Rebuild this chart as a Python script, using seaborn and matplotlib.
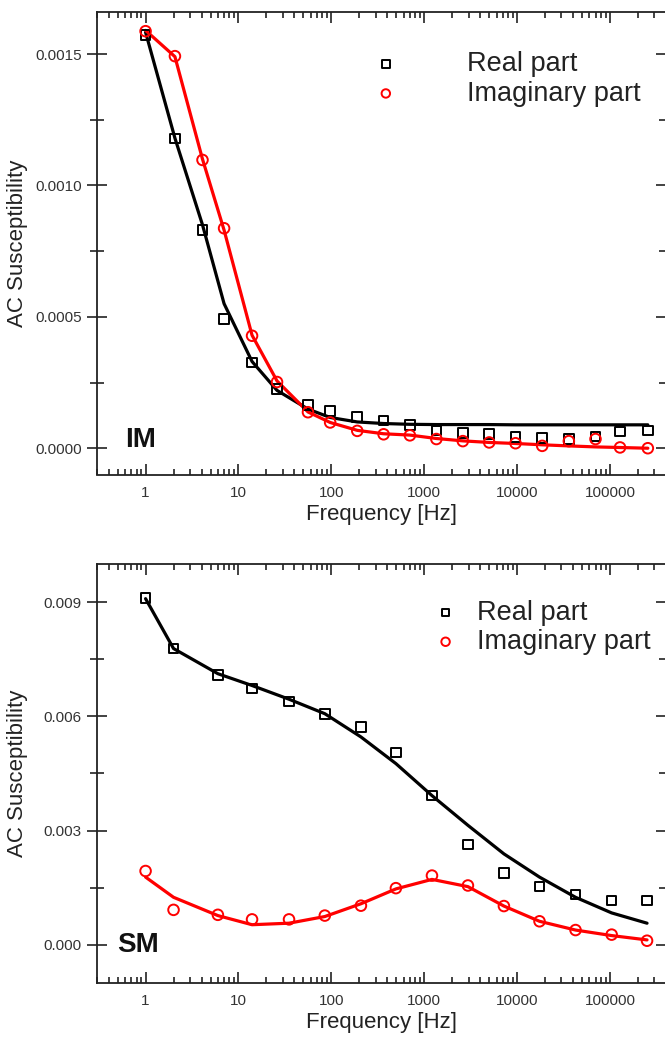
import numpy as np
import matplotlib.pyplot as plt
import seaborn as sns
from matplotlib.ticker import FixedLocator, LogLocator, NullFormatter, MultipleLocator, FormatStrFormatter

sns.set_style("ticks")
plt.rcParams["font.family"] = ["Liberation Sans", "DejaVu Sans"]

# ── IM sample (top panel) ─────────────────────────────────────────────────────
freq_im = [1, 2.07, 4.1, 7.0, 14, 26, 56, 97, 190, 365, 700, 1350, 2600,
           5000, 9600, 18600, 36000, 69700, 128000, 255000]
real_im = [0.001573, 0.001179, 0.00083, 0.000491, 0.000326, 0.000225, 0.000165,
           0.000142, 0.000119, 0.000105, 0.000088, 0.000067, 0.000059, 0.000053,
           0.000043, 0.000040, 0.000034, 0.000044, 0.000064, 0.000068]
imag_im = [0.001587, 0.001492, 0.001097, 0.000837, 0.000428, 0.000252, 0.000137,
           0.000098, 0.000066, 0.000053, 0.000049, 0.000035, 0.000027, 0.000022,
           0.000019, 0.000009, 0.000027, 0.000035, 0.000003, 0.0]
fit_real_im = [0.001583, 0.00118, 0.00085, 0.00055, 0.00033, 0.00022, 0.000149,
               0.000117, 0.000100, 0.000094, 0.000091, 0.000090, 0.000090, 0.000090,
               0.000089, 0.000089, 0.000089, 0.000089, 0.000089, 0.000089]
fit_imag_im = [0.00159, 0.00149, 0.0011, 0.00083, 0.00043, 0.000256, 0.000138,
               0.000098, 0.000068, 0.000055, 0.000050, 0.000037, 0.000028, 0.000022,
               0.000018, 0.000013, 0.0000088, 0.000005, 0.0000027, 0.0]

# ── SM sample (bottom panel) ──────────────────────────────────────────────────
freq_sm = [1, 2, 6, 14, 35, 85, 208, 495, 1210, 2950, 7200, 17400, 42500,
           104000, 250000]
real_sm = [0.00911, 0.00778, 0.00709, 0.00673, 0.00639, 0.00607, 0.00572,
           0.00505, 0.00392, 0.00264, 0.00189, 0.00153, 0.00132, 0.00117, 0.00117]
imag_sm = [0.00194, 0.00092, 0.00079, 0.00067, 0.00067, 0.00077, 0.00103,
           0.00149, 0.00182, 0.00156, 0.00102, 0.00062, 0.00039, 0.00027, 0.00011]
fit_real_sm = [0.00909, 0.00778, 0.00712, 0.00681, 0.00645, 0.00607, 0.00546,
               0.00476, 0.00392, 0.00314, 0.00239, 0.00178, 0.00125, 0.00084, 0.00057]
fit_imag_sm = [0.00178, 0.00125, 0.00077, 0.00053, 0.00057, 0.000745, 0.00108,
               0.00147, 0.00172, 0.00153, 0.00102, 0.00062, 0.00039, 0.000245, 0.000131]

XTICKS = [1, 10, 100, 1000, 10000, 100000]
XTICK_LABELS = ["1", "10", "100", "1000", "10000", "100000"]

W, H = 665, 1041
fig = plt.figure(figsize=(W / 100, H / 100), dpi=100)


def axes_px(left, top, right, bottom):
    return fig.add_axes([left / W, 1 - bottom / H, (right - left) / W, (bottom - top) / H])


def panel(ax, freq, real, imag, fit_r, fit_i, ylim, ystep, yfmt, tag, tag_xy,
          leg_anchor, textpad):
    sns.lineplot(x=freq, y=fit_r, ax=ax, color="black", lw=2.3, sort=False)
    sns.lineplot(x=freq, y=fit_i, ax=ax, color="#ff0000", lw=2.3, sort=False)
    sns.scatterplot(x=freq, y=real, ax=ax, marker="s", s=48, facecolors="none",
                    edgecolor="black", linewidth=1.4, label="Real part", zorder=3)
    sns.scatterplot(x=freq, y=imag, ax=ax, marker="o", s=58, facecolors="none",
                    edgecolor="#ff0000", linewidth=1.4, label="Imaginary part", zorder=3)
    ax.set_xscale("log")
    ax.set_xlim(0.3, 4e5)
    ax.set_ylim(*ylim)
    ax.xaxis.set_major_locator(FixedLocator(XTICKS))
    ax.set_xticklabels(XTICK_LABELS)
    ax.xaxis.set_minor_locator(LogLocator(base=10, subs=np.arange(2, 10), numticks=20))
    ax.xaxis.set_minor_formatter(NullFormatter())
    ax.yaxis.set_major_locator(MultipleLocator(ystep))
    ax.yaxis.set_minor_locator(MultipleLocator(ystep / 2))
    ax.yaxis.set_major_formatter(FormatStrFormatter(yfmt))
    ax.tick_params(which="both", top=True, right=True, width=1.2,
                   labelsize=11, colors="#222222", labelcolor="#333333")
    ax.tick_params(axis="x", which="both", direction="in")
    ax.tick_params(axis="x", which="major", length=8, pad=8)
    ax.tick_params(axis="x", which="minor", length=4.5)
    ax.tick_params(axis="y", which="both", direction="inout")
    ax.tick_params(axis="y", which="major", length=14, pad=4)
    ax.tick_params(axis="y", which="minor", length=10)
    for sp in ax.spines.values():
        sp.set_linewidth(1.3)
        sp.set_color("#222222")
    ax.set_xlabel("Frequency [Hz]", fontsize=16, color="#222222", labelpad=3)
    ax.set_ylabel("AC Susceptibility", fontsize=16, color="#222222")
    ax.yaxis.set_label_coords(-0.122, 0.5)
    ax.text(tag_xy[0], tag_xy[1], tag, transform=ax.transAxes, fontsize=20,
            fontweight="bold", ha="left", va="center", color="#111111")
    leg = ax.legend(loc="upper left", bbox_to_anchor=leg_anchor, frameon=False,
                    fontsize=19.5, handletextpad=textpad, borderaxespad=0, borderpad=0,
                    labelspacing=0.12, markerscale=0.8)
    for t in leg.get_texts():
        t.set_color("#222222")


ax1 = axes_px(97, 12, 666, 474.5)
panel(ax1, freq_im, real_im, imag_im, fit_real_im, fit_imag_im,
      (-0.0001, 0.00166), 0.0005, "%.4f", "IM", (0.049, 0.075),
      (0.46, 0.915), 1.98)

ax2 = axes_px(97, 564, 666, 983)
panel(ax2, freq_sm, real_sm, imag_sm, fit_real_sm, fit_imag_sm,
      (-0.001, 0.0100), 0.003, "%.3f", "SM", (0.036, 0.091),
      (0.565, 0.915), 0.15)

fig.savefig("out.png", dpi=100)
